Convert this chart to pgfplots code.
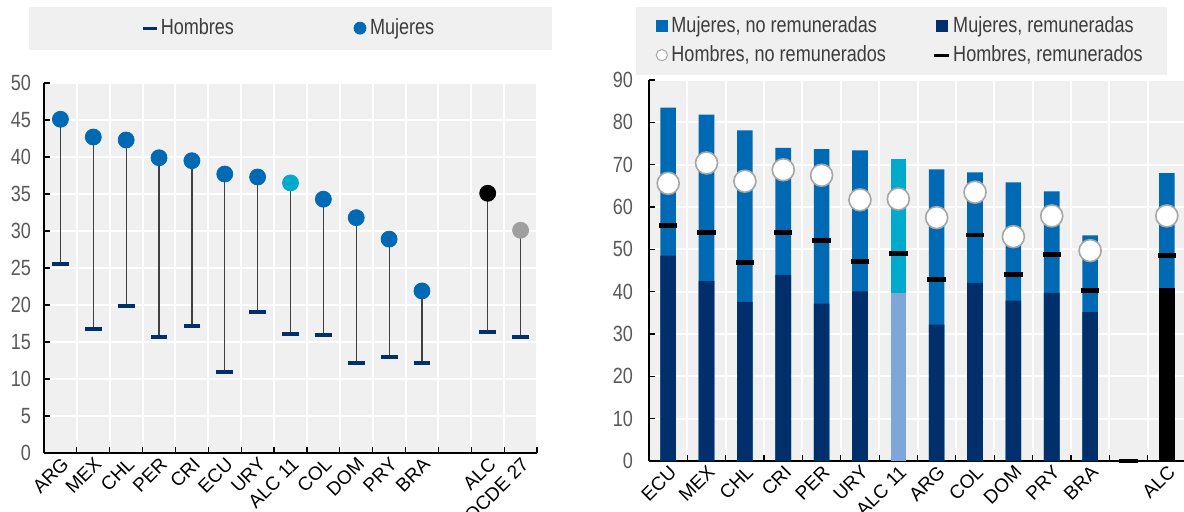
\documentclass[border=0pt]{standalone}
\usepackage{fontspec}
\setmainfont{Liberation Sans}
\newfontfamily\narrow[FakeStretch=0.82]{Liberation Sans}
\usepackage{pgfplots}
\usepackage{pgfplotstable}
\pgfplotsset{compat=1.18}

\definecolor{bgc}{HTML}{F0F0F0}
\definecolor{cblue}{HTML}{0069B4}
\definecolor{cnavy}{HTML}{002F6C}
\definecolor{ccyan}{HTML}{00AACC}
\definecolor{clight}{HTML}{7EA6D8}
\definecolor{cgrey}{HTML}{A0A0A0}
\definecolor{tickgrey}{HTML}{595959}
\definecolor{legtext}{HTML}{3C3C3C}

% left panel: x, hombres, mujeres, class
\pgfplotstableread{
x m w c
0 25.6 45.1 a
1 16.8 42.7 a
2 19.8 42.3 a
3 15.7 39.9 a
4 17.2 39.5 a
5 10.9 37.7 a
6 19.0 37.3 a
7 16.1 36.5 b
8 16.0 34.3 a
9 12.1 31.8 a
10 13.0 28.9 a
11 12.2 21.9 a
13 16.3 35.1 c
14 15.7 30.1 d
}\leftdata

\pgfplotsset{
  panel/.style={
    scale only axis,
    axis x line*=bottom, axis y line*=left,
    axis line style={-, black, line width=0.7pt},
    axis background/.style={fill=bgc},
    tick align=inside,
    major tick length=3pt, minor tick length=3pt,
    every tick/.style={black, line width=0.6pt},
    every major x tick/.append style={draw=none},
    ymajorgrids, xminorgrids,
    grid style={white, line width=1pt},
    minor grid style={white, line width=1pt},
    /pgf/number format/assume math mode=true,
    yticklabel style={font=\narrow\fontsize{11}{11}\selectfont, text=tickgrey},
    xticklabel style={font=\fontsize{9.5}{10}\selectfont, rotate=45, anchor=north east, inner sep=1pt},
    legend cell align=left,
    legend image code/.code={\draw[mark repeat=2,mark phase=2,##1] plot coordinates {(0pt,0pt) (3.5pt,0pt) (7pt,0pt)};},
  },
}

\begin{document}
\begin{tikzpicture}
\useasboundingbox (0,0) rectangle (592pt,255.5pt);

\begin{axis}[panel,
  at={(22pt,29pt)}, anchor=south west,
  width=246.5pt, height=185pt,
  xmin=-0.5, xmax=14.5, ymin=0, ymax=50,
  ytick={0,5,...,50},
  yticklabel style={xshift=-3pt},
  xtick={0,...,14},
  xticklabels={ARG,MEX,CHL,PER,CRI,ECU,URY,ALC 11,COL,DOM,PRY,BRA,,ALC,OCDE 27},
  minor xtick={-0.5,0.5,...,14.5},
  legend columns=2,
  legend style={at={(0.5,1)}, anchor=south, yshift=16.5pt, fill=bgc, draw=none,
    font=\narrow\fontsize{11}{12}\selectfont, text=legtext,
    inner xsep=57pt, inner ysep=4pt,
    /tikz/every even column/.append style={column sep=58pt}},
]
\addplot[draw=none, mark=none, forget plot,
  error bars/.cd, y dir=minus, y explicit, error mark=none,
  error bar style={black!75, line width=0.6pt}]
  table[x=x, y=w, y error minus expr=\thisrow{w}-\thisrow{m}] {\leftdata};
\addplot[only marks, mark=-, mark size=4.2pt, forget plot,
  mark options={cnavy, line width=2pt}] table[x=x, y=m] {\leftdata};
\addplot[scatter, only marks, forget plot, scatter src=explicit symbolic,
  scatter/classes={
    a={mark=*, mark size=4pt, draw=cblue, fill=cblue},
    b={mark=*, mark size=4pt, draw=ccyan, fill=ccyan},
    c={mark=*, mark size=4pt, draw=black, fill=black},
    d={mark=*, mark size=4pt, draw=cgrey, fill=cgrey}}]
  table[x=x, y=w, meta=c] {\leftdata};
\addlegendimage{only marks, mark=-, mark size=3.5pt, mark options={cnavy, line width=1.6pt}}
\addlegendentry{Hombres}
\addlegendimage{only marks, mark=*, mark size=3pt, mark options={draw=cblue, fill=cblue}}
\addlegendentry{Mujeres}
\end{axis}

\begin{axis}[panel,
  at={(324.5pt,25pt)}, anchor=south west,
  width=268.5pt, height=190.5pt,
  xmin=-0.5, xmax=13.5, ymin=0, ymax=90,
  ytick={0,10,...,90},
  yticklabel style={xshift=-4.5pt},
  xtick={0,...,13},
  xticklabels={ECU,MEX,CHL,CRI,PER,URY,ALC 11,ARG,COL,DOM,PRY,BRA,,ALC},
  minor xtick={-0.5,0.5,...,13.5},
  legend columns=2,
  legend style={at={(0.5,1)}, anchor=south, xshift=-8pt, yshift=2.5pt, fill=bgc, draw=none,
    font=\narrow\fontsize{11}{12}\selectfont, text=legtext,
    inner xsep=10pt, inner ysep=3pt, /tikz/row sep=1pt,
    /tikz/every even column/.append style={column sep=22pt}},
]
% total (mujeres) bars
\addplot[ybar, bar width=7.8pt, bar shift=0pt, fill=cblue, draw=none, forget plot]
  coordinates {(0,83.5) (1,81.8) (2,78.1) (3,74.0) (4,73.7) (5,73.4) (7,68.9) (8,68.2) (9,65.8) (10,63.7) (11,53.3) (13,68.0)};
\addplot[ybar, bar width=7.8pt, bar shift=0pt, fill=ccyan, draw=none, forget plot]
  coordinates {(6,71.4)};
% remuneradas
\addplot[ybar, bar width=7.8pt, bar shift=0pt, fill=cnavy, draw=none, forget plot]
  coordinates {(0,48.5) (1,42.5) (2,37.6) (3,44.0) (4,37.2) (5,40.1) (7,32.2) (8,42.1) (9,37.9) (10,39.7) (11,35.2)};
\addplot[ybar, bar width=7.8pt, bar shift=0pt, fill=clight, draw=none, forget plot]
  coordinates {(6,39.6)};
\addplot[ybar, bar width=7.8pt, bar shift=0pt, fill=black, draw=none, forget plot]
  coordinates {(13,40.8)};
% hombres
\addplot[only marks, mark=-, mark size=4.6pt, forget plot, mark options={black, line width=2.4pt}]
  coordinates {(0,55.7) (1,54.0) (2,46.9) (3,53.9) (4,52.1) (5,47.1) (6,49.0) (7,42.8) (8,53.4) (9,44.0) (10,48.7) (11,40.2) (12,0) (13,48.6)};
\addplot[only marks, mark=*, mark size=5.5pt, forget plot, mark options={fill=white, draw=gray!70, line width=0.8pt}]
  coordinates {(0,65.6) (1,70.4) (2,66.1) (3,68.8) (4,67.5) (5,61.7) (6,61.9) (7,57.5) (8,63.5) (9,53.0) (10,57.9) (11,49.7) (13,57.9)};

\addlegendimage{only marks, mark=square*, mark size=2.8pt, mark options={draw=cblue, fill=cblue}}
\addlegendentry{Mujeres, no remuneradas}
\addlegendimage{only marks, mark=square*, mark size=2.8pt, mark options={draw=cnavy, fill=cnavy}}
\addlegendentry{Mujeres, remuneradas}
\addlegendimage{only marks, mark=*, mark size=2.8pt, mark options={fill=white, draw=gray!70, line width=0.5pt}}
\addlegendentry{Hombres, no remunerados}
\addlegendimage{only marks, mark=-, mark size=3.8pt, mark options={black, line width=1.6pt}}
\addlegendentry{Hombres, remunerados}
\end{axis}
\end{tikzpicture}
\end{document}
